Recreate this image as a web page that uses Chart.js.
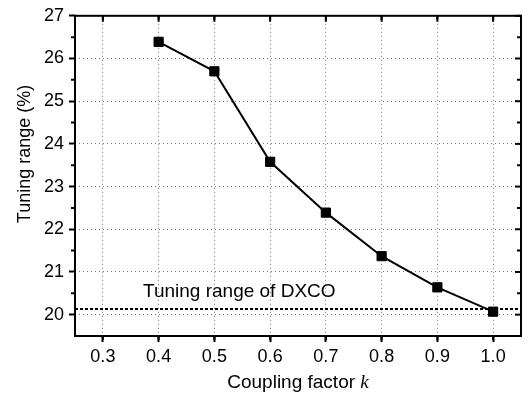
<!DOCTYPE html>
<html>
<head>
<meta charset="utf-8">
<script src="https://cdn.jsdelivr.net/npm/chart.js@4"></script>
<style>
  html, body { margin: 0; padding: 0; background: #fff; }
  #wrap { width: 530px; height: 395px; }
</style>
</head>
<body>
<div id="wrap"><canvas id="tuningChart" width="530" height="395"></canvas></div>
<script>
// Tuning range vs coupling factor
const couplingK = [0.4, 0.5, 0.6, 0.7, 0.8, 0.9, 1.0];
const tuningRange = [26.39, 25.70, 23.58, 22.39, 21.37, 20.64, 20.07];

// reference level of the DXCO
const dxcoRange = 20.13;
const dxcoLabel = 'Tuning range of DXCO';

const xTicks = [0.3, 0.4, 0.5, 0.6, 0.7, 0.8, 0.9, 1.0];
const yTicks = [20, 21, 22, 23, 24, 25, 26, 27];
const xRange = [0.25, 1.05];
const yRange = [19.5, 27];

const FONT = '"Liberation Sans", Arial, sans-serif';

// frame, minor ticks, mirrored ticks, titles and the DXCO label
const framePlugin = {
    id: 'frame',
    afterDraw(chart) {
        const ctx = chart.ctx;
        const a = chart.chartArea;
        const xs = chart.scales.x;
        const ys = chart.scales.y;
        ctx.save();
        ctx.strokeStyle = '#000';
        ctx.lineWidth = 2;

        // x ticks: major outward at bottom, inward at top; minor halfway
        for (let i = 0; i < xTicks.length; i++) {
            const px = xs.getPixelForValue(xTicks[i]);
            ctx.beginPath();
            ctx.moveTo(px, a.top); ctx.lineTo(px, a.top + 6);
            ctx.stroke();
        }
        for (let v = xRange[0] + 0.05; v < xRange[1]; v += 0.1) {
            const px = xs.getPixelForValue(v);
            ctx.beginPath();
            ctx.moveTo(px, a.bottom); ctx.lineTo(px, a.bottom + 4);
            ctx.moveTo(px, a.top); ctx.lineTo(px, a.top + 4);
            ctx.stroke();
        }
        // y ticks
        for (let i = 0; i < yTicks.length; i++) {
            const py = ys.getPixelForValue(yTicks[i]);
            ctx.beginPath();
            ctx.moveTo(a.right, py); ctx.lineTo(a.right - 6, py);
            ctx.stroke();
        }
        for (let v = yRange[0] + 1; v < yRange[1]; v += 1) {
            const py = ys.getPixelForValue(v);
            ctx.beginPath();
            ctx.moveTo(a.left, py); ctx.lineTo(a.left - 4, py);
            ctx.moveTo(a.right, py); ctx.lineTo(a.right - 4, py);
            ctx.stroke();
        }
        // box
        ctx.strokeRect(a.left, a.top, a.right - a.left, a.bottom - a.top);

        // DXCO label
        ctx.fillStyle = '#000';
        ctx.font = '19px ' + FONT;
        ctx.textAlign = 'left';
        ctx.textBaseline = 'alphabetic';
        ctx.fillText(dxcoLabel, xs.getPixelForValue(0.372), ys.getPixelForValue(20.41));

        // x title with italic k
        ctx.font = '19px ' + FONT;
        const t1 = 'Coupling factor ';
        const w1 = ctx.measureText(t1).width;
        ctx.font = 'italic 19px "Liberation Serif", "Times New Roman", serif';
        const w2 = ctx.measureText('k').width;
        const cx = (a.left + a.right) / 2;
        let sx = cx - (w1 + w2) / 2;
        ctx.font = '19px ' + FONT;
        ctx.fillText(t1, sx, 388);
        ctx.font = 'italic 19px "Liberation Serif", "Times New Roman", serif';
        ctx.fillText('k', sx + w1, 388);

        // y title
        ctx.save();
        ctx.translate(25, 154);
        ctx.rotate(-Math.PI / 2);
        ctx.font = '18px ' + FONT;
        ctx.textAlign = 'center';
        ctx.textBaseline = 'middle';
        ctx.fillText('Tuning range (%)', 0, 0);
        ctx.restore();

        ctx.restore();
    }
};

const ctx = document.getElementById('tuningChart').getContext('2d');
const tuningChart = new Chart(ctx, {
    type: 'line',
    data: {
        datasets: [{
            label: 'Tuning range',
            data: couplingK.map((k, i) => ({ x: k, y: tuningRange[i] })),
            borderColor: '#000',
            backgroundColor: '#000',
            borderWidth: 2,
            pointStyle: 'rect',
            pointRadius: 6.5,
            pointBorderWidth: 1,
            tension: 0,
            order: 1
        }, {
            label: 'DXCO',
            data: xRange.map(x => ({ x: x, y: dxcoRange })),
            borderColor: '#000',
            borderWidth: 2,
            borderDash: [3, 2],
            pointRadius: 0,
            order: 2
        }]
    },
    options: {
        responsive: false,
        animation: false,
        layout: { padding: { left: 0, top: 10, right: 9, bottom: 0 } },
        plugins: {
            legend: { display: false },
            tooltip: { enabled: false }
        },
        scales: {
            x: {
                type: 'linear',
                min: xRange[0],
                max: xRange[1],
                afterBuildTicks: (scale) => { scale.ticks = xTicks.map(v => ({ value: v })); },
                afterFit: (scale) => { scale.height = 59; },
                ticks: {
                    color: '#000',
                    font: { family: FONT, size: 18 },
                    padding: 4,
                    maxRotation: 0,
                    callback: (v) => v.toFixed(1)
                },
                grid: {
                    color: '#777',
                    lineWidth: 1,
                    tickColor: '#000',
                    tickWidth: 2,
                    tickLength: 6
                },
                border: { display: false, dash: [1, 3] }
            },
            y: {
                type: 'linear',
                min: yRange[0],
                max: yRange[1],
                afterBuildTicks: (scale) => { scale.ticks = yTicks.map(v => ({ value: v })); },
                afterFit: (scale) => { scale.width = 75; },
                ticks: {
                    color: '#000',
                    font: { family: FONT, size: 18 },
                    padding: 5
                },
                grid: {
                    color: '#777',
                    lineWidth: 1,
                    tickColor: '#000',
                    tickWidth: 2,
                    tickLength: 6
                },
                border: { display: false, dash: [1, 3] }
            }
        }
    },
    plugins: [framePlugin]
});
</script>
</body>
</html>
